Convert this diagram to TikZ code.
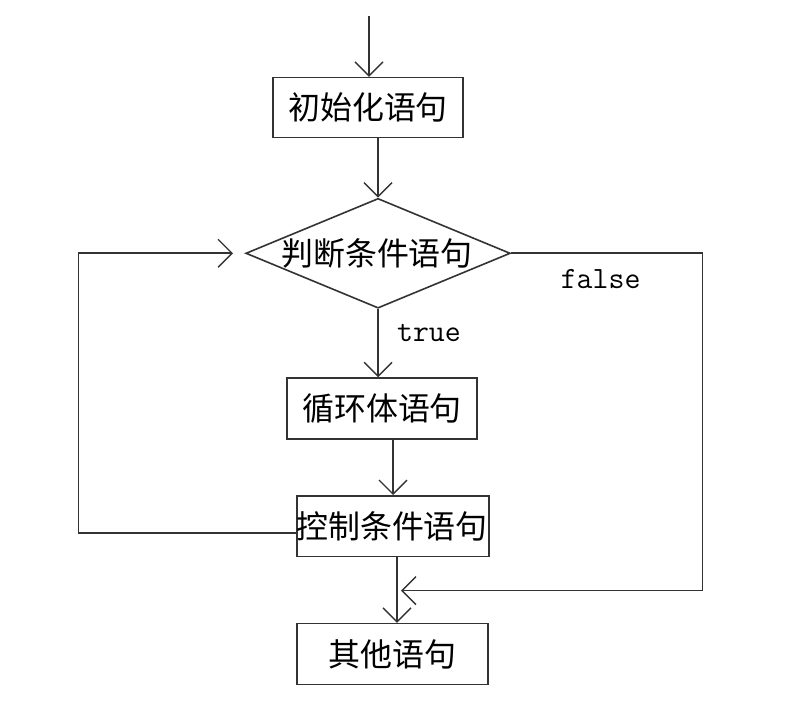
\documentclass[tikz,border=0pt]{standalone}
\usepackage{fontspec}
\newfontfamily\cjk{Noto Sans CJK SC}
\usetikzlibrary{shapes.geometric,arrows.meta}
\begin{document}
\begin{tikzpicture}[x=1pt,y=-1pt,
  every path/.style={line width=1.6pt,draw=black!80},
  box/.style={draw,line width=1.6pt,rectangle,inner sep=0pt,font=\cjk\fontsize{32}{36}\selectfont},
  lbl/.style={font=\cjk\fontsize{32}{36}\selectfont,inner sep=0pt},
  tlbl/.style={font=\ttfamily\fontsize{31}{34}\selectfont,inner sep=0pt},
  arr/.style={-{Straight Barb[length=14pt,width=28pt,line width=1.4pt]}}]
\useasboundingbox (0,0) rectangle (803,712);
\fill[white] (0,0) rectangle (803,712);
\node[box,minimum width=190pt,minimum height=60pt] (b1) at (368,107) {初始化语句};
\node[diamond,draw,line width=1.6pt,inner sep=0pt,minimum width=265pt,minimum height=110pt] (dia) at (378,253) {};
\node[lbl] (diat) at (377,253) {判断条件语句};
\node[box,minimum width=190pt,minimum height=61pt] (b2) at (382,408.5) {循环体语句};
\node[box,minimum width=192pt,minimum height=61pt] (b3) at (393,526.5) {};
\node[lbl] (b3t) at (392,527) {控制条件语句};
\node[box,minimum width=191pt,minimum height=61pt] (b4) at (392.5,654.5) {其他语句};
\coordinate (start) at (369,15);
\coordinate (rt) at (703,253);
\coordinate (lf) at (78,533);
\coordinate (mg) at (397,591);
\node[tlbl] (tr) at (429,333) {true};
\node[tlbl] (fa) at (601,279) {false};
\draw[arr] (start) -- (start |- b1.north);
\draw[arr] (dia.north |- b1.south) -- (dia.north);
\draw[arr] (dia.south) -- (dia.south |- b2.north);
\draw[arr] (b3.north |- b2.south) -- (b3.north);
\draw[arr] (mg |- b3.south) -- (mg |- b4.north);
\draw[arr,shorten >=12pt] ([yshift=-6.5pt]b3.west) -- (lf) |- (dia.west);
\draw[arr,shorten >=4pt] (dia.east) -- (rt) |- (mg);
\end{tikzpicture}
\end{document}
